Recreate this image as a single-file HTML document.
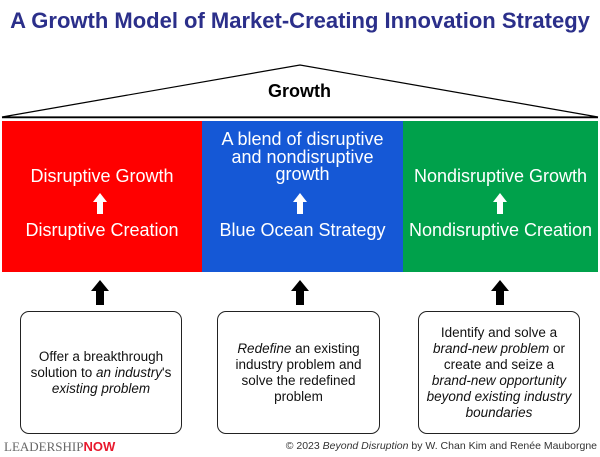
<!DOCTYPE html>
<html><head><style>
body{margin:0;width:600px;height:457px;background:#fff;position:relative;overflow:hidden;font-family:"Liberation Sans",Arial,sans-serif}
.a{position:absolute}
.t{left:0;width:600px;top:8px;text-align:center;font-weight:bold;font-size:22px;color:#2b2f8a;white-space:nowrap}
.col{top:121px;height:151px}
.w{color:#fff;text-align:center;font-size:18px;white-space:nowrap}
.box{top:311px;height:123px;border:1.5px solid #222;border-radius:9px;display:flex;align-items:center;justify-content:center;text-align:center;font-size:13.5px;line-height:16px;color:#111;box-sizing:border-box}
</style></head><body>
<div class="a t">A Growth Model of Market-Creating Innovation Strategy</div>
<svg class="a" style="left:0;top:0" width="600" height="320">
<polygon points="2,117 300,65 598,117" fill="none" stroke="#000" stroke-width="1.2"/>
<line x1="2" y1="117.5" x2="598" y2="117.5" stroke="#000" stroke-width="1.5"/>
<g fill="#000">
<polygon points="100,280 91,291 96,291 96,305 104,305 104,291 109,291"/>
<polygon points="300,280 291,291 296,291 296,305 304,305 304,291 309,291"/>
<polygon points="500,280 491,291 496,291 496,305 504,305 504,291 509,291"/>
</g>
</svg>
<div class="a" style="left:268px;top:81px;font-weight:bold;font-size:18px">Growth</div>
<div class="a col" style="left:2px;width:200px;background:#ff0000"></div>
<div class="a col" style="left:202px;width:201px;background:#1558d6"></div>
<div class="a col" style="left:403px;width:195px;background:#00a14b"></div>
<svg class="a" style="left:0;top:0" width="600" height="280"><g fill="#fff">
<polygon points="100,193 93,202 97,202 97,214 103,214 103,202 107,202"/>
<polygon points="300,193 293,202 297,202 297,214 303,214 303,202 307,202"/>
<polygon points="500,193 493,202 497,202 497,214 503,214 503,202 507,202"/>
</g></svg>
<div class="a w" style="left:2px;width:200px;top:166px">Disruptive Growth</div>
<div class="a w" style="left:2px;width:200px;top:220px">Disruptive Creation</div>
<div class="a w" style="left:202px;width:201px;top:131px;line-height:17.5px">A blend of disruptive<br>and nondisruptive<br>growth</div>
<div class="a w" style="left:202px;width:201px;top:220px">Blue Ocean Strategy</div>
<div class="a w" style="left:403px;width:195px;top:166px">Nondisruptive Growth</div>
<div class="a w" style="left:403px;width:195px;top:220px">Nondisruptive Creation</div>
<div class="a box" style="left:20px;width:162px"><div>Offer a breakthrough<br>solution to <i>an industry</i>'s<br><i>existing problem</i></div></div>
<div class="a box" style="left:217px;width:163px"><div><i>Redefine</i> an existing<br>industry problem and<br>solve the redefined<br>problem</div></div>
<div class="a box" style="left:418px;width:162px"><div>Identify and solve a<br><i>brand-new problem</i> or<br>create and seize a<br><i>brand-new opportunity<br>beyond existing industry<br>boundaries</i></div></div>
<div class="a" style="left:4px;top:439px;font-family:'Liberation Serif',serif;font-size:13px;color:#666">LEADERSHIP<b style="font-family:'Liberation Sans',sans-serif;color:#e8182c">NOW</b></div>
<div class="a" style="right:3px;top:440px;font-size:10.5px;color:#333">© 2023 <i>Beyond Disruption</i> by W. Chan Kim and Renée Mauborgne</div>
</body></html>
